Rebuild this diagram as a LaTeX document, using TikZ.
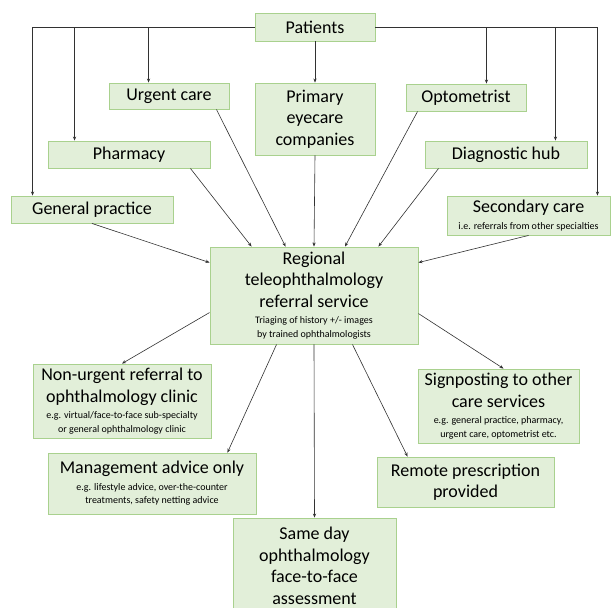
\documentclass[tikz,border=0pt]{standalone}
\usepackage{fontspec}
\setmainfont{Carlito}
\usetikzlibrary{calc,arrows.meta}
\definecolor{boxfill}{RGB}{226,239,217}
\definecolor{boxline}{RGB}{169,209,142}
\definecolor{arrcol}{RGB}{50,50,50}
\newcommand{\bigf}{\fontsize{18}{21.5}\selectfont}
\newcommand{\smallf}{\fontsize{10}{12}\selectfont}
\begin{document}
\begin{tikzpicture}[x=1pt,y=-1pt,
  gbox/.style={draw=boxline,fill=boxfill,line width=0.9pt,inner sep=0pt,align=center,font=\bigf,text=black},
  arr/.style={draw=arrcol,line width=0.6pt,-{Stealth[length=4pt,width=3.2pt]}}]
\fill[white] (0,0) rectangle (611,608);
\useasboundingbox (0,0) rectangle (611,608);
% top row
\node[gbox,minimum width=120,minimum height=28] (pat) at (315,27) {Patients};
\node[gbox,minimum width=120,minimum height=26] (urg) at (169,96) {Urgent care};
\node[gbox,minimum width=120,minimum height=72] (prim) at (315,119) {Primary\\eyecare\\companies};
\node[gbox,minimum width=120,minimum height=27] (opt) at (466,97.5) {Optometrist};
\node[gbox,minimum width=162,minimum height=27] (pha) at (129,154.5) {Pharmacy};
\node[gbox,minimum width=162,minimum height=27] (diag) at (506,154.5) {Diagnostic hub};
\node[gbox,minimum width=162,minimum height=27] (gp) at (92,209.5) {General practice};
\node[gbox,minimum width=163,minimum height=39] (sec) at (528.5,215.5) {Secondary care\\[-5pt]{\smallf i.e. referrals from other specialties}};
% central
\node[gbox,minimum width=208,minimum height=97] (reg) at (314,295.5) {Regional\\teleophthalmology\\referral service\\[-5pt]{\smallf Triaging of history +/- images}\\[-8pt]{\smallf by trained ophthalmologists}};
% outcomes
\node[gbox,minimum width=178,minimum height=74] (nu) at (122,401) {Non-urgent referral to\\ophthalmology clinic\\[-5pt]{\smallf e.g. virtual/face-to-face sub-specialty}\\[-8pt]{\smallf or general ophthalmology clinic}};
\node[gbox,minimum width=161,minimum height=74] (sp) at (498.5,406) {Signposting to other\\care services\\[-5pt]{\smallf e.g. general practice, pharmacy,}\\[-8pt]{\smallf urgent care, optometrist etc.}};
\node[gbox,minimum width=208,minimum height=61] (mg) at (152,483.5) {Management advice only\\[-5pt]{\smallf e.g. lifestyle advice, over-the-counter}\\[-8pt]{\smallf treatments, safety netting advice}};
\node[gbox,minimum width=177,minimum height=50] (rem) at (465.5,482) {Remote prescription\\provided};
\node[gbox,minimum width=163,minimum height=96] (sd) at (314.5,566) {Same day\\ophthalmology\\face-to-face\\assessment};
% drop points
\coordinate (gpin) at ($(gp.north west)+(22,0)$);
\coordinate (phain) at ($(pha.north west)+(27,0)$);
\coordinate (urgin) at ($(urg.north west)+(40,0)$);
\coordinate (optin) at ($(opt.north east)+(-40,0)$);
\coordinate (diagin) at ($(diag.north east)+(-32,0)$);
\coordinate (secin) at ($(sec.north east)+(-13,0)$);
\draw[arr] (pat.west) -| (gpin);
\draw[arr] (pat.west) -| (phain);
\draw[arr] (pat.west) -| (urgin);
\draw[arr] (pat.south) -- (prim.north);
\draw[arr] (pat.east) -| (optin);
\draw[arr] (pat.east) -| (diagin);
\draw[arr] (pat.east) -| (secin);
% into regional
\draw[arr] (gp.south) -- ($(reg.north west)+(0,16)$);
\draw[arr] ($(pha.south east)+(-20,0)$) -- ($(reg.north west)+(42,0)$);
\draw[arr] ($(urg.south east)+(-13,0)$) -- ($(reg.north west)+(76,0)$);
\draw[arr] (prim.south) -- (reg.north);
\draw[arr] ($(opt.south west)+(12,0)$) -- ($(reg.north)+(31,0)$);
\draw[arr] ($(diag.south west)+(14,0)$) -- ($(reg.north east)+(-40,0)$);
\draw[arr] (sec.south) -- ($(reg.north east)+(0,16)$);
% out of regional
\draw[arr] ($(reg.north west)+(0,66)$) -- (nu.north);
\draw[arr] ($(reg.south west)+(67,0)$) -- ($(mg.north east)+(-29,0)$);
\draw[arr] (reg.south) -- (sd.north);
\draw[arr] ($(reg.south east)+(-66,0)$) -- ($(rem.north west)+(31,0)$);
\draw[arr] ($(reg.north east)+(0,67)$) -- ($(sp.north)+(5,0)$);
\end{tikzpicture}
\end{document}
